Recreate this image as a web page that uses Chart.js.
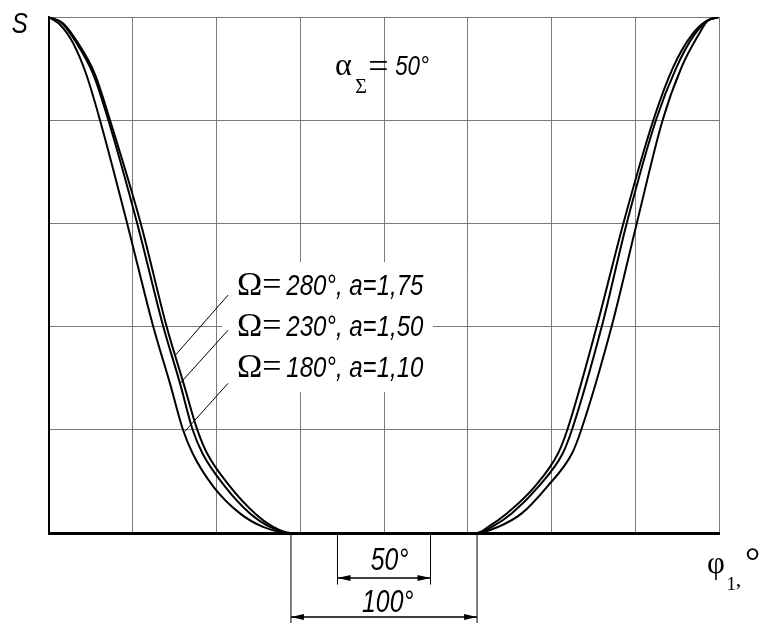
<!DOCTYPE html>
<html>
<head>
<meta charset="utf-8">
<script src="https://cdn.jsdelivr.net/npm/chart.js@4"></script>
<style>
  body { margin: 0; background: #fff; }
</style>
</head>
<body>
<canvas id="cam-chart" width="763" height="623"></canvas>
<script>
// displacement S over cam angle phi1 (deg)
var phiOmega180 = [0, 6, 13, 20, 27.4, 42, 56, 65, 72, 77.2, 88.3, 102.6, 115, 130, 230, 241.4, 254, 267.7, 281, 286, 302.3, 315.8, 329.7, 339.9, 348.9, 354, 360];
var sOmega180   = [1, 0.985, 0.949, 0.889, 0.8, 0.6, 0.4, 0.29, 0.2, 0.154, 0.09, 0.038, 0.012, 0, 0, 0.012, 0.038, 0.09, 0.154, 0.2, 0.4, 0.6, 0.8, 0.903, 0.965, 0.993, 1];
var phiOmega230 = [0, 7, 14.9, 23.8, 31.9, 47.4, 61.4, 70.4, 77.2, 82.5, 94.6, 108, 118.7, 130, 230, 238, 248.6, 263, 276, 281, 297, 310.4, 326.1, 337.2, 346.6, 354, 360];
var sOmega230   = [1, 0.988, 0.949, 0.889, 0.8, 0.6, 0.4, 0.29, 0.2, 0.154, 0.09, 0.038, 0.012, 0, 0, 0.012, 0.038, 0.09, 0.154, 0.2, 0.4, 0.6, 0.8, 0.903, 0.965, 0.993, 1];
var phiOmega280 = [0, 7.5, 15.7, 24.7, 32.8, 49.3, 63.2, 72.3, 79.7, 85, 97.3, 110.7, 120.5, 130, 230, 236, 246, 261, 273.5, 278.5, 294.3, 308.6, 324.7, 335.4, 345.3, 353.5, 360];
var sOmega280   = [1, 0.988, 0.949, 0.889, 0.8, 0.6, 0.4, 0.29, 0.2, 0.154, 0.09, 0.038, 0.012, 0, 0, 0.012, 0.038, 0.09, 0.154, 0.2, 0.4, 0.6, 0.8, 0.903, 0.965, 0.993, 1];

var seriesLabels = ['280°, a=1,75', '230°, a=1,50', '180°, a=1,10'];
var dwellStart = 130, dwellEnd = 230;   // 100° span
var innerStart = 155, innerEnd = 205;   // 50° span

function pts(xs, ys) {
    return xs.map(function (x, i) { return { x: x, y: ys[i] }; });
}

function curve(xs, ys) {
    return {
        data: pts(xs, ys),
        borderColor: '#000',
        borderWidth: 2,
        pointRadius: 0,
        fill: false,
        cubicInterpolationMode: 'monotone'
    };
}

function narrow(ctx, text, x, y, size, align) {
    ctx.save();
    ctx.font = 'italic ' + size + 'px "Liberation Sans", sans-serif';
    ctx.translate(x, y);
    ctx.scale(0.8, 1);
    ctx.textAlign = align || 'left';
    ctx.textBaseline = 'alphabetic';
    ctx.fillStyle = '#000';
    ctx.fillText(text, 0, 0);
    ctx.restore();
}

function serif(ctx, text, x, y, size) {
    ctx.save();
    ctx.font = size + 'px "Liberation Serif", serif';
    ctx.textAlign = 'left';
    ctx.textBaseline = 'alphabetic';
    ctx.fillStyle = '#000';
    ctx.fillText(text, x, y);
    ctx.restore();
}

function line(ctx, x1, y1, x2, y2, w) {
    ctx.beginPath();
    ctx.moveTo(x1, y1);
    ctx.lineTo(x2, y2);
    ctx.lineWidth = w;
    ctx.strokeStyle = '#000';
    ctx.stroke();
}

function arrowHead(ctx, x, y, dir) {
    ctx.beginPath();
    ctx.moveTo(x, y);
    ctx.lineTo(x - dir * 13, y - 3);
    ctx.lineTo(x - dir * 13, y + 3);
    ctx.closePath();
    ctx.fillStyle = '#000';
    ctx.fill();
}

var notes = {
    id: 'notes',
    beforeDatasetsDraw: function (chart) {
        var ctx = chart.ctx;
        var xs = chart.scales.x, ys = chart.scales.y;
        var px = function (v) { return xs.getPixelForValue(v); };
        var py = function (v) { return ys.getPixelForValue(v); };
        // white box under the series labels
        ctx.save();
        ctx.fillStyle = '#fff';
        ctx.fillRect(px(93), py(0.525), px(206.3) - px(93), py(0.273) - py(0.525));
        ctx.restore();
    },
    afterDraw: function (chart) {
        var ctx = chart.ctx;
        var xs = chart.scales.x, ys = chart.scales.y;
        var px = function (v) { return xs.getPixelForValue(v); };
        var py = function (v) { return ys.getPixelForValue(v); };

        // axis names
        narrow(ctx, 'S', px(-20), py(0.969), 30);
        serif(ctx, 'φ', px(353.5), py(-0.078), 31);
        serif(ctx, '1', px(364), py(-0.110), 19);
        serif(ctx, ',', px(369), py(-0.103), 22);
        serif(ctx, '°', px(374), py(-0.080), 38);

        // alpha sigma
        serif(ctx, 'α', px(153.7), py(0.888), 32);
        serif(ctx, 'Σ', px(164.5), py(0.853), 20);
        serif(ctx, '=', px(171.5), py(0.882), 36);
        narrow(ctx, '50°', px(186), py(0.888), 28);

        // series labels with leaders
        var baseS = [0.461, 0.382, 0.302];
        for (var i = 0; i < 3; i++) {
            serif(ctx, 'Ω=', px(101), py(baseS[i]), 34);
            narrow(ctx, seriesLabels[i], px(127.5), py(baseS[i]), 30);
        }
        var leadFrom = [[96.2, 0.461], [96.2, 0.393], [96.2, 0.29]];
        var leadTo = [[68, 0.345], [70.4, 0.29], [73, 0.197]];
        for (var j = 0; j < 3; j++) {
            line(ctx, px(leadFrom[j][0]), py(leadFrom[j][1]), px(leadTo[j][0]), py(leadTo[j][1]), 1);
        }

        // dimension lines under the axis
        var yBottom = chart.height;
        line(ctx, px(dwellStart), py(0), px(dwellStart), yBottom, 1);
        line(ctx, px(dwellEnd), py(0), px(dwellEnd), yBottom, 1);
        line(ctx, px(innerStart), py(0), px(innerStart), py(-0.1), 1);
        line(ctx, px(innerEnd), py(0), px(innerEnd), py(-0.1), 1);

        var y50 = py(-0.087), y100 = py(-0.163);
        line(ctx, px(innerStart), y50, px(innerEnd), y50, 1.5);
        arrowHead(ctx, px(innerStart), y50, -1);
        arrowHead(ctx, px(innerEnd), y50, 1);
        line(ctx, px(dwellStart), y100, px(dwellEnd), y100, 1.5);
        arrowHead(ctx, px(dwellStart), y100, -1);
        arrowHead(ctx, px(dwellEnd), y100, 1);

        narrow(ctx, (innerEnd - innerStart) + '°', px(183), py(-0.0717), 31, 'center');
        narrow(ctx, (dwellEnd - dwellStart) + '°', px(182), py(-0.153), 31, 'center');
    }
};

var ctx = document.getElementById('cam-chart').getContext('2d');
var camChart = new Chart(ctx, {
    type: 'line',
    data: {
        datasets: [
            curve(phiOmega280, sOmega280),
            curve(phiOmega230, sOmega230),
            curve(phiOmega180, sOmega180)
        ]
    },
    options: {
        responsive: false,
        animation: false,
        events: [],
        layout: { padding: { left: 49, top: 17, right: 44, bottom: 90 } },
        scales: {
            x: {
                type: 'linear',
                min: 0,
                max: 360,
                ticks: { display: false, stepSize: 45 },
                grid: { color: '#7a7a7a', lineWidth: 1, drawTicks: false },
                border: { color: '#000', width: 3 }
            },
            y: {
                type: 'linear',
                min: 0,
                max: 1,
                ticks: { display: false, stepSize: 0.2 },
                grid: { color: '#7a7a7a', lineWidth: 1, drawTicks: false },
                border: { color: '#000', width: 2 }
            }
        },
        plugins: {
            legend: { display: false },
            tooltip: { enabled: false }
        }
    },
    plugins: [notes]
});
</script>
</body>
</html>
